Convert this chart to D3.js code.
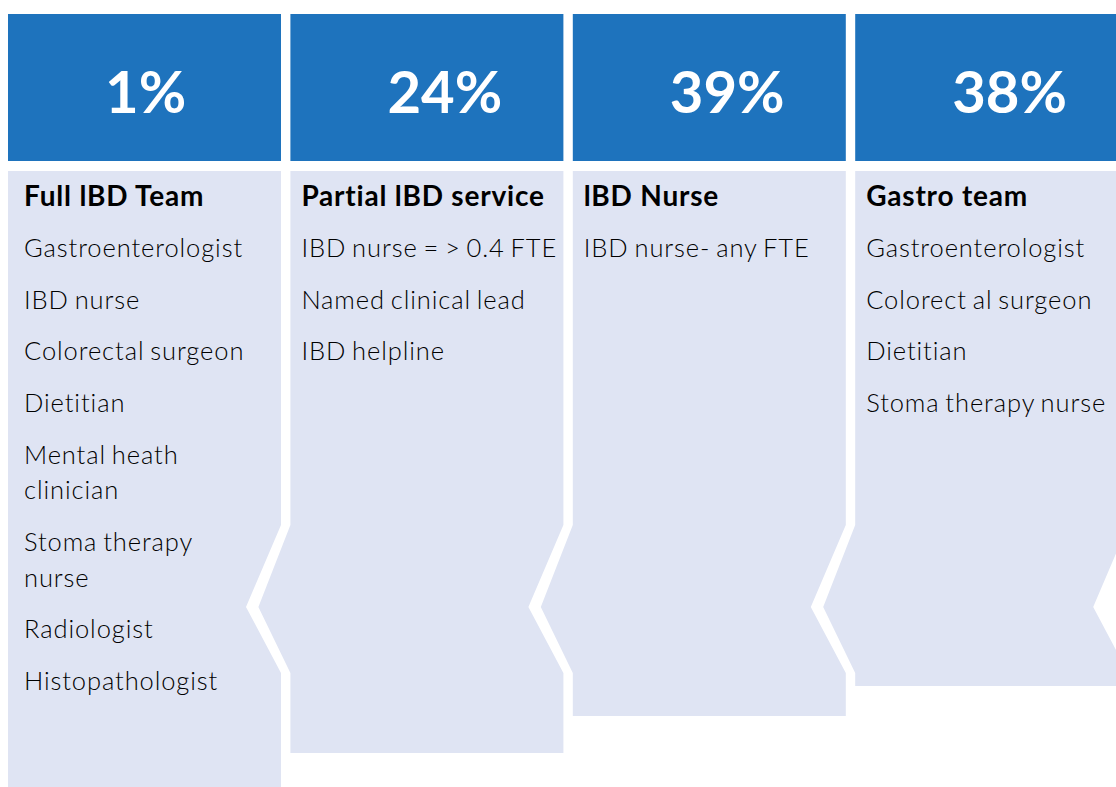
<!DOCTYPE html>
<html>
<head>
<meta charset="utf-8">
<script src="https://cdn.jsdelivr.net/npm/d3@7"></script>
<style>
  body { margin: 0; background: #fff; }
  svg { display: block; }
</style>
</head>
<body>
<div id="chart"></div>
<script>
// data
var categories = ["Full lBD Team", "Partial lBD service", "lBD Nurse", "Gastro team"];
var percents = [1, 24, 39, 38];
// each item is a list of lines (line breaks as in the picture)
var items = [
  [["Gastroenterologist"], ["IBD nurse"], ["Colorectal surgeon"], ["Dietitian"],
   ["Mental heath", "clinician"], ["Stoma therapy", "nurse"], ["Radiologist"], ["Histopathologist"]],
  [["IBD nurse = > 0.4 FTE"], ["Named clinical lead"], ["IBD helpline"]],
  [["IBD nurse- any FTE"]],
  [["Gastroenterologist"], ["Colorect al surgeon"], ["Dietitian"], ["Stoma therapy nurse"]]
];

var width = 1116, height = 787;
var blue = "#1e73bd", light = "#dfe4f3";
var font = "Lato, 'Open Sans', sans-serif";

// layout
var headTop = 14, headBottom = 161, panelTop = 171;
var panelBottom = [800, 753, 716, 686];
var notchTop = 525, notchMid = 607, notchBottom = 673, notchDepth = 35, tipDepth = 32;

var svg = d3.select("#chart").append("svg")
  .attr("width", width)
  .attr("height", height);

var x = d3.scaleBand()
  .domain(categories)
  .range([8, 1128.2])
  .paddingInner(0.0333)
  .paddingOuter(0);

var bw = x.bandwidth();

var cols = svg.selectAll(".col")
  .data(categories)
  .enter()
  .append("g")
  .attr("class", "col");

// header boxes
cols.append("rect")
  .attr("x", function (d) { return x(d); })
  .attr("y", headTop)
  .attr("width", bw)
  .attr("height", headBottom - headTop)
  .attr("fill", blue);

cols.append("text")
  .attr("x", function (d) { return x(d) + 97; })
  .attr("y", 113)
  .attr("fill", "#fff")
  .style("font-family", font)
  .style("font-weight", 700)
  .style("font-size", "58px")
  .text(function (d, i) { return percents[i] + "%"; });

// chevron panels
cols.append("path")
  .attr("fill", light)
  .attr("d", function (d, i) {
    var L = x(d), R = L + bw, B = panelBottom[i];
    var p = d3.path();
    p.moveTo(L, panelTop);
    p.lineTo(R, panelTop);
    p.lineTo(R, notchTop);
    p.lineTo(R - notchDepth, notchMid);
    p.lineTo(R, notchBottom);
    p.lineTo(R, B);
    p.lineTo(L, B);
    if (i > 0) {
      p.lineTo(L, notchBottom);
      p.lineTo(L - tipDepth, notchMid);
      p.lineTo(L, notchTop);
    }
    p.closePath();
    return p.toString();
  });

// titles
cols.append("text")
  .attr("x", function (d, i) { return x(d) + (i === 0 ? 16 : 11); })
  .attr("y", 206)
  .attr("fill", "#000")
  .style("font-family", font)
  .style("font-weight", 700)
  .style("font-size", "28px")
  .style("letter-spacing", "0.8px")
  .text(function (d) { return d; });

// item lists
var paraStep = 51.7, lineStep = 35.5;
cols.each(function (d, i) {
  var g = d3.select(this);
  var y = 257;
  items[i].forEach(function (lines) {
    lines.forEach(function (ln, k) {
      g.append("text")
        .attr("x", x(d) + (i === 0 ? 16 : 11))
        .attr("y", y + k * lineStep)
        .attr("fill", "#000")
        .style("font-family", font)
        .style("font-weight", 300)
        .style("font-size", "25.5px")
        .style("letter-spacing", "0.9px")
        .style("word-spacing", "-2px")
        .text(ln);
    });
    y += paraStep + (lines.length - 1) * lineStep;
  });
});
</script>
</body>
</html>
